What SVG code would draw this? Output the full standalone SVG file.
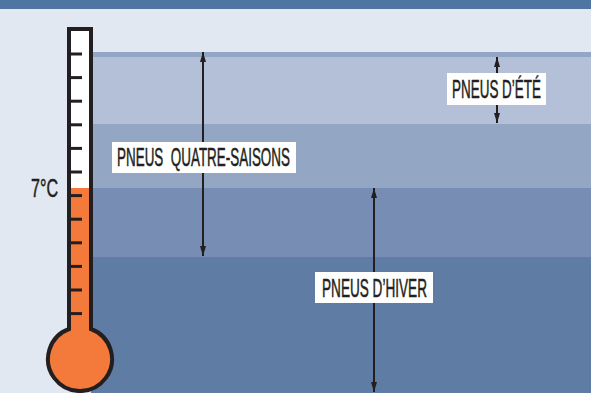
<svg xmlns="http://www.w3.org/2000/svg" width="591" height="393" viewBox="0 0 591 393">
<defs>
<style>
.lbl{font-family:"Liberation Sans Narrow","Liberation Sans",Arial,sans-serif;font-size:25px;fill:#231f20;stroke:#231f20;stroke-width:0.5;}
.box{fill:#ffffff;}
.arr{stroke:#231f20;stroke-width:2;fill:none;marker-start:url(#ah);marker-end:url(#ah);}
.tick{stroke:#231f20;stroke-width:3;}
</style>
<marker id="ah" viewBox="0 0 10 6" refX="10" refY="3" markerWidth="10" markerHeight="6" markerUnits="userSpaceOnUse" orient="auto-start-reverse">
<path d="M0,0 L10,3 L0,6 Z" fill="#231f20"/>
</marker>
</defs>
<rect x="0" y="0" width="591" height="393" fill="#e1e8f1"/>
<rect x="0" y="0" width="591" height="9" fill="#4f76a2"/>
<g id="bands">
<rect x="91" y="52" width="500" height="5" fill="#94a6c6"/>
<rect x="91" y="57" width="500" height="67" fill="#b4bfd8"/>
<rect x="91" y="124" width="500" height="64" fill="#93a6c4"/>
<rect x="91" y="188" width="500" height="69" fill="#778db4"/>
<rect x="91" y="257" width="500" height="136" fill="#5f7ca5"/>
</g>
<g id="thermometer">
<path d="M69,329 V29 H91 V329 A32,32 0 1 1 69,329 Z" fill="#f47a3c"/>
<rect x="71" y="31" width="18" height="157" fill="#ffffff"/>
<path d="M69,329 V29 H91 V329 A32,32 0 1 1 69,329 Z" fill="none" stroke="#231f20" stroke-width="4"/>
<g class="tick">
<line x1="71" y1="54" x2="82" y2="54"/>
<line x1="71" y1="77.6" x2="82" y2="77.6"/>
<line x1="71" y1="101.2" x2="82" y2="101.2"/>
<line x1="71" y1="124.8" x2="82" y2="124.8"/>
<line x1="71" y1="148.4" x2="82" y2="148.4"/>
<line x1="71" y1="172" x2="82" y2="172"/>
<line x1="71" y1="195.6" x2="82" y2="195.6"/>
<line x1="71" y1="219.2" x2="82" y2="219.2"/>
<line x1="71" y1="242.8" x2="82" y2="242.8"/>
<line x1="71" y1="266.4" x2="82" y2="266.4"/>
<line x1="71" y1="290" x2="82" y2="290"/>
<line x1="71" y1="313.6" x2="82" y2="313.6"/>
</g>
<text class="lbl" x="31" y="197" textLength="27" lengthAdjust="spacingAndGlyphs">7°C</text>
</g>
<g id="connectors">
<line class="arr" x1="203" y1="52" x2="203" y2="256"/>
<line class="arr" x1="497" y1="57" x2="497" y2="123"/>
<line class="arr" x1="374" y1="188" x2="374" y2="392"/>
</g>
<g id="node-quatre-saisons">
<rect class="box" x="112" y="142" width="184" height="31"/>
<text class="lbl" x="117" y="166" textLength="173" lengthAdjust="spacingAndGlyphs" xml:space="preserve">PNEUS  QUATRE-SAISONS</text>
</g>
<g id="node-ete">
<rect class="box" x="447" y="73" width="99" height="32"/>
<text class="lbl" x="452" y="98" textLength="89" lengthAdjust="spacingAndGlyphs">PNEUS D’ÉTÉ</text>
</g>
<g id="node-hiver">
<rect class="box" x="315" y="272" width="118" height="31"/>
<text class="lbl" x="322" y="297" textLength="105" lengthAdjust="spacingAndGlyphs">PNEUS D’HIVER</text>
</g>
</svg>
